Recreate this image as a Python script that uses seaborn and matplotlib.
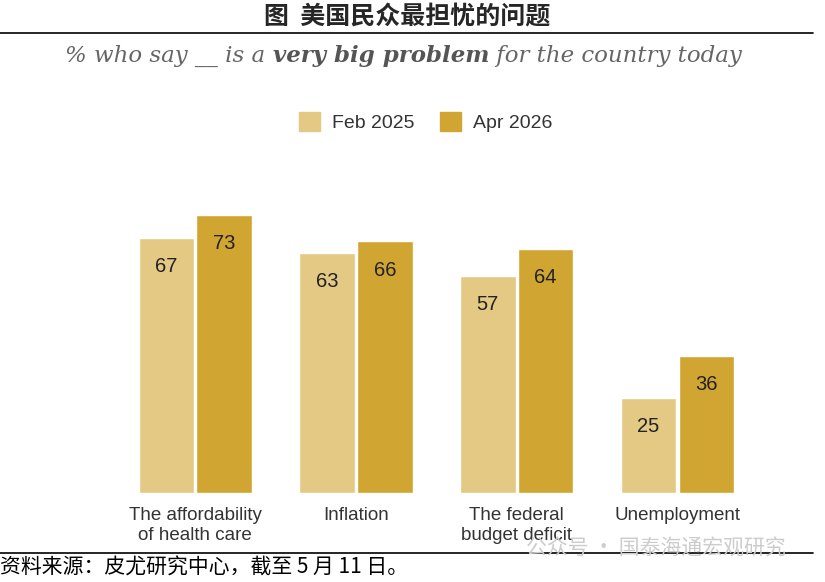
import pandas as pd
import matplotlib.pyplot as plt
import seaborn as sns
from matplotlib.lines import Line2D

# data
categories = ['The affordability\nof health care', 'Inflation',
              'The federal\nbudget deficit', 'Unemployment']
feb_2025 = [67, 63, 57, 25]
apr_2026 = [73, 66, 64, 36]
periods = ['Feb 2025', 'Apr 2026']

df = pd.DataFrame({
    'category': categories * 2,
    'period': [periods[0]] * 4 + [periods[1]] * 4,
    'value': feb_2025 + apr_2026,
})

sns.set_style('white')
plt.rcParams['font.family'] = ['Liberation Sans', 'Noto Sans CJK SC', 'DejaVu Sans']

fig = plt.figure(figsize=(8.25, 5.82), dpi=100)
ax = fig.add_axes([0.1394, 0.1529, 0.779, 0.524])

colors = {'Feb 2025': '#E3C983', 'Apr 2026': '#D1A531'}
sns.barplot(data=df, x='category', y='value', hue='period', palette=colors,
            width=0.72, gap=0.04, saturation=1, ax=ax, legend=False)

ax.set_ylim(0, 80)
ax.set_xlim(-0.5, 3.5)
ax.set_xlabel('')
ax.set_ylabel('')
ax.set_yticks([])
ax.tick_params(axis='x', length=0, labelsize=13.5, labelcolor='#333333', pad=10)
for s in ax.spines.values():
    s.set_visible(False)

for cont in ax.containers:
    for bar in cont:
        h = bar.get_height()
        ax.text(bar.get_x() + bar.get_width() / 2, h - 7.5, f'{h:.0f}',
                ha='center', va='center', fontsize=14.5, color='#222222')

# legend
handles = [plt.Rectangle((0, 0), 1, 1, color=colors[p]) for p in periods]
fig.legend(handles, periods, loc='center', bbox_to_anchor=(0.516, 1 - 122 / 582),
           ncol=2, frameon=False, fontsize=14, handlelength=1.1, handleheight=1.1,
           columnspacing=1.3, handletextpad=0.6, labelcolor='#333333')

# title + rules
fig.text(0.493, 1 - 17 / 582, '图  美国民众最担忧的问题', ha='center', va='center',
         fontsize=18, fontweight='bold', family=['Noto Sans CJK SC'])
fig.add_artist(Line2D([0, 0.986], [1 - 33 / 582] * 2, color='black', lw=1.2))
fig.add_artist(Line2D([0, 0.986], [1 - 553 / 582] * 2, color='black', lw=1.2))

# subtitle with bold middle
sub_kw = dict(fontsize=16.5, family='DejaVu Serif', style='italic', color='#666666')
t1 = fig.text(0.079, 1 - 62 / 582, '% who say __ is a ', ha='left', va='baseline', **sub_kw)
t2 = ax.annotate('very big problem', xy=(1, 0), xycoords=t1, ha='left', va='bottom',
                 annotation_clip=False, fontweight='bold',
                 **{**sub_kw, 'color': '#555555'})
ax.annotate(' for the country today', xy=(1, 0), xycoords=t2, ha='left', va='bottom',
            annotation_clip=False, **sub_kw)

# watermark + source
fig.text(0.637, 1 - 549 / 582, '公众号 · 国泰海通宏观研究', ha='left', va='center',
         fontsize=15, color='#cccccc', family=['Noto Sans CJK SC'])
fig.text(0.0, 1 - 568 / 582, '资料来源：皮尤研究中心，截至 5 月 11 日。', ha='left', va='center',
         fontsize=15, color='black', family=['Noto Sans CJK SC'])

plt.savefig('out.png', dpi=100)
